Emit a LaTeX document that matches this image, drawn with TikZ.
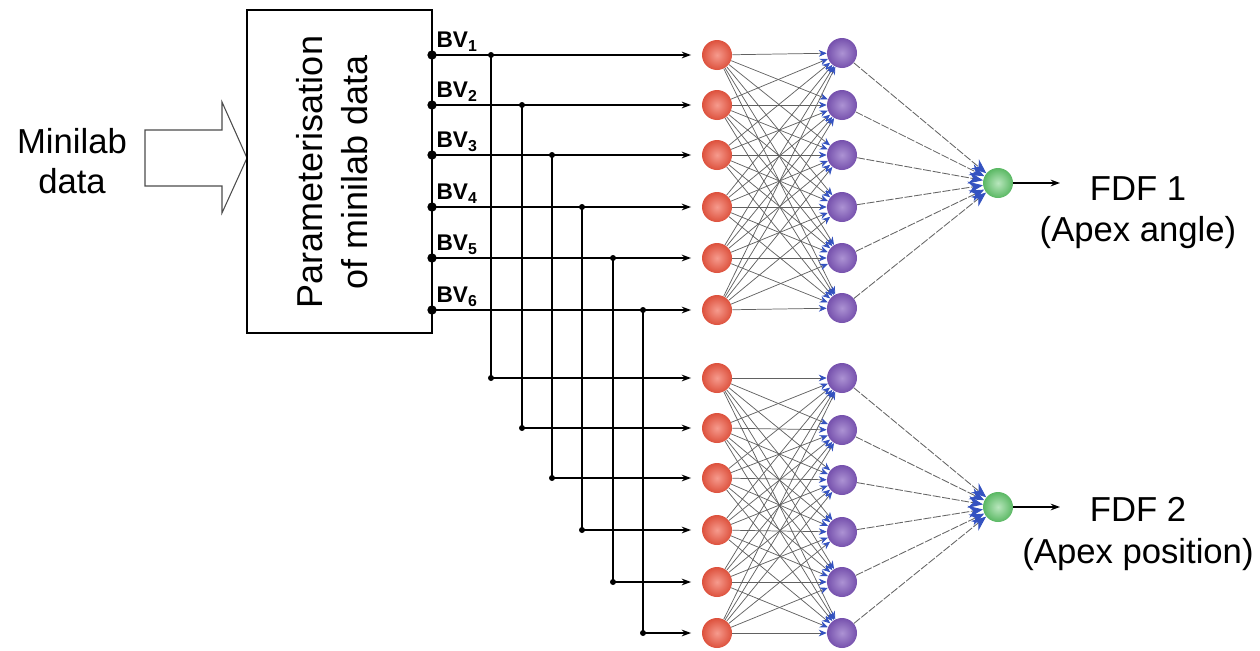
\documentclass[tikz,border=0pt]{standalone}
\usepackage{fontspec}
\setmainfont{Liberation Sans}
\usetikzlibrary{arrows.meta}

\definecolor{inred}{RGB}{240,88,66}
\definecolor{hidpurple}{RGB}{128,88,188}
\definecolor{outgreen}{RGB}{98,200,108}
\definecolor{tipblue}{RGB}{52,82,192}

\begin{document}
\begin{tikzpicture}[x=0.75pt,y=-0.75pt,
  neuron/.style={circle,minimum size=22.5pt,inner sep=0pt,shading=radial},
  inneuron/.style={neuron,inner color=inred!60!white,outer color=inred!92!black},
  hidneuron/.style={neuron,inner color=hidpurple!65!white,outer color=hidpurple!92!black},
  outneuron/.style={neuron,inner color=outgreen!45!white,outer color=outgreen!92!black},
  portdot/.style={circle,fill=black,inner sep=0pt,minimum size=7pt},
  joindot/.style={circle,fill=black,inner sep=0pt,minimum size=4.5pt},
  feed/.style={line width=1.1pt,-{Stealth[length=7pt,width=5pt]},shorten >=8pt},
  bus/.style={line width=1.1pt},
  netedge/.style={draw=black!62,line width=0.55pt,-{Stealth[length=6pt,width=5pt,color=tipblue]}},
  outedge/.style={draw=black!60,line width=0.65pt,dash pattern=on 6pt off 1.2pt,-{Stealth[length=11pt,width=9pt,color=tipblue]}},
  bvlabel/.style={font=\bfseries\fontsize{17}{20}\selectfont,anchor=south west,inner sep=1pt},
  biglabel/.style={align=center,font=\fontsize{26}{31}\selectfont}
]
\useasboundingbox (0,0) rectangle (1260,650);

% input label and hollow arrow
\node[align=center,font=\fontsize{26}{30}\selectfont] (src) at (72,161) {Minilab\\data};
\draw[black!70,line width=0.8pt,line join=miter]
  (145,130) -- (222,130) -- (222,102) -- (247,158) -- (222,213) -- (222,186) -- (145,186) -- cycle;

% parameterisation block
\node[draw,line width=1pt,minimum width=138.75pt,minimum height=242.25pt,inner sep=0pt] (box) at (339.5,171.5) {};
\node[rotate=90,align=center,font=\fontsize{27}{34}\selectfont] (boxtext) at (332,172) {Parameterisation\\of minilab data};

% rows: index / top y / bus x / bottom y
\foreach \i/\yt/\xb/\yb in {1/55/491/378, 2/105/522/428, 3/155/552/478,
                            4/207/582/530, 5/258/613/582, 6/310/643/633} {
  \node[portdot] (bv\i) at (432,\yt) {};
  \node[bvlabel] (bvl\i) at (435,\yt-2) {BV\textsubscript{\i}};
  \node[inneuron] (r\i) at (717,\yt) {};
  \node[inneuron] (s\i) at (717,\yb) {};
  \node[joindot] (j\i) at (\xb,\yt) {};
  \node[joindot] (k\i) at (\xb,\yb) {};
}
\foreach \i/\y in {1/53, 2/105, 3/155, 4/207, 5/258, 6/308}
  \node[hidneuron] (p\i) at (842,\y) {};
\foreach \i/\y in {1/378, 2/430, 3/480, 4/532, 5/582, 6/633}
  \node[hidneuron] (q\i) at (842,\y) {};

\node[outneuron] (g1) at (998,183) {};
\node[outneuron] (g2) at (998,507) {};

% inputs into the two networks
\foreach \i in {1,...,6} {
  \draw[feed] (bv\i.center) -- (r\i.west);
  \draw[bus] (j\i.center) -- (k\i.center);
  \draw[feed] (k\i.center) -- (s\i.west);
}

% fully connected layers
\foreach \a in {1,...,6} {
  \foreach \b in {1,...,6} {
    \draw[netedge] (r\a) -- (p\b);
    \draw[netedge] (s\a) -- (q\b);
  }
  \draw[outedge] (p\a) -- (g1);
  \draw[outedge] (q\a) -- (g2);
}

% outputs
\coordinate (o1) at (1060,183);
\coordinate (o2) at (1060,507);
\draw[line width=1.1pt,-{Stealth[length=7pt,width=5pt]}] (g1.east) -- (o1);
\draw[line width=1.1pt,-{Stealth[length=7pt,width=5pt]}] (g2.east) -- (o2);
\node[biglabel] (fdf1) at (1138,213) {FDF 1\\(Apex angle)};
\node[biglabel] (fdf2) at (1138,534) {FDF 2\\(Apex position)};
\end{tikzpicture}
\end{document}
